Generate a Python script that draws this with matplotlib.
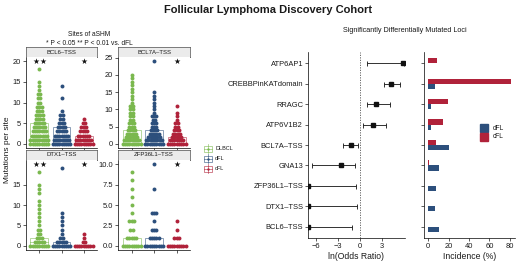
import numpy as np
import matplotlib
matplotlib.use("Agg")
import matplotlib.pyplot as plt
from matplotlib.patches import Rectangle

plt.rcParams["font.family"] = ["Liberation Sans", "DejaVu Sans"]

# ── Data ──────────────────────────────────────────────────────────────────────
groups = ["DLBCL", "dFL", "cFL"]
group_colors = ["#7ab84e", "#2c4f7c", "#b0223a"]

sites = ["BCL6\u2013TSS", "BCL7A\u2013TSS", "DTX1\u2013TSS", "ZFP36L1\u2013TSS"]

# visible dots per mutation count, per group (DLBCL, dFL, cFL)
bcl6_counts = [
    {0: 9, 1: 9, 2: 8, 3: 7, 4: 6, 5: 5, 6: 4, 7: 4, 8: 3, 9: 3, 10: 2, 11: 2, 12: 2, 13: 1, 14: 1, 15: 1, 18: 1},
    {0: 9, 1: 8, 2: 7, 3: 5, 4: 4, 5: 3, 6: 2, 7: 2, 8: 1, 11: 1, 14: 1},
    {0: 9, 1: 8, 2: 6, 3: 4, 4: 3, 5: 2, 6: 1},
]
bcl7a_counts = [
    {0: 9, 1: 8, 2: 6, 3: 5, 4: 4, 5: 3, 6: 3, 7: 2, 8: 2, 9: 2, 10: 2, 11: 2, 12: 1, 13: 1,
     14: 1, 15: 1, 16: 1, 17: 1, 18: 1, 19: 1, 20: 1},
    {0: 9, 1: 8, 2: 6, 3: 5, 4: 4, 5: 3, 6: 3, 7: 2, 8: 3, 9: 1, 10: 1, 11: 1, 12: 1, 13: 1,
     14: 1, 15: 1, 24: 1},
    {0: 9, 1: 7, 2: 5, 3: 4, 4: 3, 5: 2, 6: 2, 7: 1, 8: 1, 9: 1, 11: 1},
]
dtx1_counts = [
    {0: 9, 1: 5, 2: 3, 3: 2, 4: 2, 5: 1, 6: 1, 7: 1, 8: 1, 9: 1, 10: 1, 11: 1, 13: 1, 14: 1, 15: 1, 18: 1},
    {0: 9, 1: 5, 2: 2, 3: 1, 4: 1, 5: 1, 6: 1, 7: 1, 8: 1, 19: 1},
    {0: 9, 1: 2, 2: 1, 3: 1},
]
zfp36l1_counts = [
    {0: 9, 1: 5, 2: 2, 3: 3, 4: 1, 5: 1, 6: 1, 7: 1, 8: 1, 9: 1},
    {0: 9, 1: 5, 2: 3, 3: 1, 4: 3, 7: 1, 10: 1},
    {0: 9, 1: 3, 2: 1, 3: 1},
]
site_counts = [bcl6_counts, bcl7a_counts, dtx1_counts, zfp36l1_counts]

# box (q1, median, q3) per group
bcl6_box = [(0, 2, 5), (0, 1, 4), (0, 1, 2)]
bcl7a_box = [(0, 1, 4), (0, 1, 4), (0, 0, 2)]
dtx1_box = [(0, 1, 2), (0, 0, 1), (0, 0, 0)]
zfp36l1_box = [(0, 0, 1), (0, 0, 1), (0, 0, 0)]
site_boxes = [bcl6_box, bcl7a_box, dtx1_box, zfp36l1_box]

# significance vs dFL
site_stars = [["**", "", "*"], ["", "", "*"], ["**", "", "*"], ["", "", "*"]]
star_level = [20, 24, 20, 10]

site_yticks = [[0, 5, 10, 15, 20], [0, 5, 10, 15, 20, 25], [0, 5, 10, 15], [0, 2.5, 5, 7.5, 10]]
site_yticklabels = [["0", "5", "10", "15", "20"], ["0", "5", "10", "15", "20", "25"],
                    ["0", "5", "10", "15"], ["0.0", "2.5", "5.0", "7.5", "10.0"]]

loci = ["ATP6AP1", "CREBBPinKATdomain", "RRAGC", "ATP6V1B2", "BCL7A\u2013TSS",
        "GNA13", "ZFP36L1\u2013TSS", "DTX1\u2013TSS", "BCL6\u2013TSS"]
log_or = [5.8, 4.2, 2.2, 1.8, -1.2, -2.6, -7.1, -7.1, -7.1]
ci_low = [0.9, 3.3, 0.9, 0.45, -2.3, -6.5, -7.1, -7.1, -7.1]
ci_high = [5.9, 5.4, 4.0, 3.5, -0.35, -0.7, -0.6, -0.45, -1.1]

incidence_cfl = [9, 81.5, 19, 14.7, 7.5, 0.8, 0, 0, 0]
incidence_dfl = [0, 6.5, 2.5, 2.5, 20.6, 10.8, 7.5, 6.5, 10.8]

# ── Layout helpers ────────────────────────────────────────────────────────────
W, H = 520, 274
fig = plt.figure(figsize=(5.2, 2.74), dpi=100)


def rect(l, t, r, b):
    return [l / W, 1 - b / H, (r - l) / W, (b - t) / H]


TXT = "#1a1a1a"


def style_axes(ax, fs=5.4):
    for s in ["top", "right"]:
        ax.spines[s].set_visible(False)
    for s in ["left", "bottom"]:
        ax.spines[s].set_linewidth(0.5)
    ax.tick_params(length=2, width=0.5, labelsize=fs, pad=1.5, colors=TXT)


# ── Left: aSHM sites ──────────────────────────────────────────────────────────
panel_px = [(26, 57, 97, 148), (118, 57, 190, 148), (26, 160, 97, 250), (118, 160, 190, 250)]
spacing = 0.1
for k, (l, t, r, b) in enumerate(panel_px):
    # strip
    sax = fig.add_axes(rect(l, t - 10, r, t))
    sax.set_facecolor("#ebebeb")
    sax.set_xticks([])
    sax.set_yticks([])
    for sp in sax.spines.values():
        sp.set_color("#4d4d4d")
        sp.set_linewidth(0.5)
    sax.text(0.5, 0.5, sites[k], ha="center", va="center", fontsize=4.3, color=TXT,
             transform=sax.transAxes)

    ax = fig.add_axes(rect(l, t, r, b))
    style_axes(ax)
    for g in range(3):
        xs, ys = [], []
        for v, n in site_counts[k][g].items():
            xs.extend(g + 1 + (np.arange(n) - (n - 1) / 2) * spacing)
            ys.extend([v] * n)
        ax.scatter(xs, ys, s=8, color=group_colors[g], linewidths=0, zorder=2)
        q1, med, q3 = site_boxes[k][g]
        ax.add_patch(Rectangle((g + 1 - 0.4, q1), 0.8, q3 - q1, fill=False,
                               edgecolor=group_colors[g], alpha=0.55, lw=0.7, zorder=3))
        ax.plot([g + 0.6, g + 1.4], [med, med], color=group_colors[g], alpha=0.55, lw=0.7, zorder=3)
        st = site_stars[k][g]
        if st:
            offs = [0] if len(st) == 1 else [-0.15, 0.15]
            ax.scatter([g + 1 + o for o in offs], [star_level[k]] * len(offs), marker="*",
                       s=20, color="#111111", linewidths=0, zorder=4)
    ymax = star_level[k]
    ax.set_ylim(-0.05 * ymax, ymax * 1.05)
    ax.set_xlim(0.4, 3.6)
    ax.set_xticks([1, 2, 3])
    ax.set_xticklabels([])
    ax.set_yticks(site_yticks[k])
    ax.set_yticklabels(site_yticklabels[k])

# ── Middle: forest plot ───────────────────────────────────────────────────────
ypos = np.arange(len(loci))[::-1] + 1
fax = fig.add_axes(rect(308, 52, 405, 238))
style_axes(fax, fs=5.4)
lo = np.array(log_or)
fax.axvline(0, color="#555555", lw=0.6, ls=(0, (1.5, 1.5)), zorder=1)
fax.errorbar(lo, ypos, xerr=[lo - np.array(ci_low), np.array(ci_high) - lo], fmt="s",
             color="#111111", ms=3, capsize=1.8, elinewidth=0.6, capthick=0.6, zorder=3)
fax.set_xlim(-7.1, 6.1)
fax.set_ylim(0.45, 9.55)
fax.set_yticks(ypos)
fax.set_yticklabels(loci)
fax.set_xticks([-6, -3, 0, 3])
fax.set_xlabel("ln(Odds Ratio)", fontsize=6.2, labelpad=1.5, color=TXT)

# ── Right: incidence bars ────────────────────────────────────────────────────
bax = fig.add_axes(rect(424, 52, 515, 238))
style_axes(bax, fs=5.4)
bax.barh(ypos + 0.125, incidence_cfl, height=0.25, color=group_colors[2])
bax.barh(ypos - 0.125, incidence_dfl, height=0.25, color=group_colors[1])
bax.set_xlim(-4.2, 85)
bax.set_ylim(0.45, 9.55)
bax.set_yticks(ypos)
bax.set_yticklabels([])
bax.set_xticks([0, 20, 40, 60, 80])
bax.set_xlabel("Incidence (%)", fontsize=6.2, labelpad=1.5, color=TXT)

# ── Overlay: titles and legends (pixel coordinates) ──────────────────────────
ov = fig.add_axes([0, 0, 1, 1], facecolor="none")
ov.set_xlim(0, W)
ov.set_ylim(H, 0)
ov.axis("off")
ov.text(268, 10, "Follicular Lymphoma Discovery Cohort", ha="center", va="center",
        fontsize=8, fontweight="bold", color=TXT)
ov.text(89, 34, "Sites of aSHM", ha="center", va="center", fontsize=4.8, color=TXT)
ov.text(89, 43.5, "* P < 0.05 ** P < 0.01 vs. dFL", ha="center", va="center", fontsize=4.8, color=TXT)
ov.text(405, 31, "Significantly Differentially Mutated Loci", ha="center", va="center",
        fontsize=5.2, color=TXT)
ov.text(8, 150, "Mutations per site", ha="center", va="center", rotation=90, fontsize=6, color=TXT)

for g, name in enumerate(groups):
    cy = 148.5 + g * 10
    c = group_colors[g]
    ov.add_patch(Rectangle((204, cy - 3), 8, 6, fill=False, edgecolor=c, lw=0.5, alpha=0.8))
    ov.plot([204, 212], [cy, cy], color=c, lw=0.5, alpha=0.8)
    ov.plot([208, 208], [cy - 4.5, cy + 4.5], color=c, lw=0.5, alpha=0.8)
    ov.scatter([208], [cy], s=3, color=c, linewidths=0)
    ov.text(215, cy, name, ha="left", va="center", fontsize=4, color=TXT)

for i, (name, c) in enumerate([("dFL", group_colors[1]), ("cFL", group_colors[2])]):
    cy = 128 + i * 9
    ov.add_patch(Rectangle((480, cy - 4), 8, 8, color=c))
    ov.text(493, cy, name, ha="left", va="center", fontsize=4.8, color=TXT)

fig.savefig("out.png", dpi=100)
